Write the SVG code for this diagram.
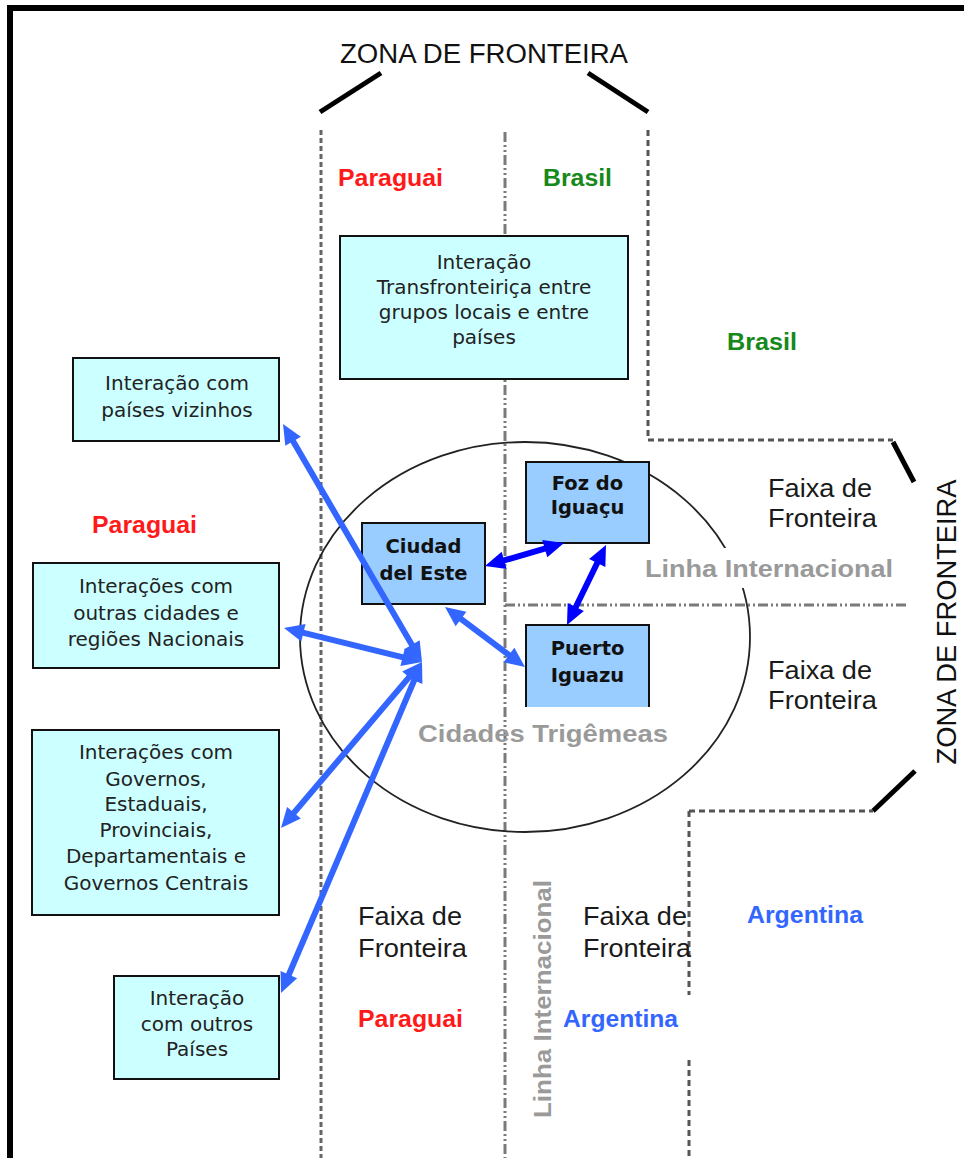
<svg xmlns="http://www.w3.org/2000/svg" width="964" height="1158" viewBox="0 0 964 1158">
<style>
.box{fill:#ccffff;stroke:#111;stroke-width:2}
.city{fill:#99ccff;stroke:#111;stroke-width:2}
.t{font-family:"DejaVu Sans",sans-serif;font-size:20px;fill:#222;text-anchor:middle}
.tb{font-family:"DejaVu Sans",sans-serif;font-size:19.5px;font-weight:bold;fill:#111;text-anchor:middle}
.lab{font-family:"Liberation Sans",Arial,sans-serif;font-weight:bold;font-size:23px}
.red{fill:#ff1a1a}.green{fill:#16891a}.blue{fill:#3366ff}
.faixa{font-family:"Liberation Sans",Arial,sans-serif;font-size:25px;fill:#1a1a1a}
.gray{font-family:"Liberation Sans",Arial,sans-serif;font-weight:bold;font-size:24px;fill:#9a9a9a}
.zona{font-family:"Liberation Sans",Arial,sans-serif;font-size:27px;fill:#111}
.dot{fill:none;stroke:#666;stroke-width:3;stroke-dasharray:5 3}
.dash{fill:none;stroke:#555;stroke-width:3;stroke-dasharray:6 4}
.dd{fill:none;stroke:#7a7a7a;stroke-width:3;stroke-dasharray:10 3 2 3 2 3}
.thick{stroke:#000;stroke-width:5;stroke-linecap:butt}
.a1{stroke:#3366ff;stroke-width:6;fill:none;marker-start:url(#h1);marker-end:url(#h1)}
.a2{stroke:#0000ff;stroke-width:6;fill:none;marker-start:url(#h2);marker-end:url(#h2)}
</style>
<defs>
<marker id="h1" markerUnits="userSpaceOnUse" markerWidth="20" markerHeight="18" refX="8" refY="9" orient="auto-start-reverse" overflow="visible"><path d="M0,0 L20,9 L0,18 z" fill="#3366ff"/></marker>
<marker id="h2" markerUnits="userSpaceOnUse" markerWidth="20" markerHeight="18" refX="8" refY="9" orient="auto-start-reverse" overflow="visible"><path d="M0,0 L20,9 L0,18 z" fill="#0000ff"/></marker>
</defs>
<rect x="0" y="0" width="964" height="1158" fill="#fff"/>
<rect x="10" y="8" width="1000" height="1200" fill="none" stroke="#000" stroke-width="6"/>

<g id="zona-top">
<text class="zona" x="484" y="63" text-anchor="middle" textLength="288" lengthAdjust="spacingAndGlyphs">ZONA DE FRONTEIRA</text>
<line class="thick" x1="320" y1="112" x2="381" y2="73"/>
<line class="thick" x1="588" y1="73" x2="648" y2="112"/>
</g>
<g id="zona-right">
<text class="zona" transform="translate(956,622) rotate(-90)" text-anchor="middle" textLength="285" lengthAdjust="spacingAndGlyphs">ZONA DE FRONTEIRA</text>
<line class="thick" x1="893" y1="442" x2="914" y2="482"/>
<line class="thick" x1="873" y1="811" x2="915" y2="771"/>
</g>

<g id="borders">
<line class="dot" x1="321" y1="130" x2="321" y2="1158"/>
<line class="dash" x1="648" y1="130" x2="648" y2="440"/>
<line class="dash" x1="648" y1="440" x2="893" y2="440"/>
<line class="dash" x1="689" y1="811" x2="873" y2="811"/>
<line class="dash" x1="689" y1="811" x2="689" y2="995"/>
<line class="dash" x1="689" y1="1060" x2="689" y2="1158"/>
<line class="dd" x1="505" y1="132" x2="505" y2="1158"/>
<line class="dd" x1="505" y1="605" x2="908" y2="605"/>
</g>

<g id="cidades-trigemeas">
<ellipse cx="525" cy="637" rx="225" ry="195" fill="none" stroke="#222" stroke-width="1.8"/>
<text class="gray" x="543" y="742" text-anchor="middle" textLength="250" lengthAdjust="spacingAndGlyphs">Cidades Trigêmeas</text>
</g>

<g id="linha-internacional-h">
<rect x="638" y="548" width="262" height="40" fill="#fff"/>
<text class="gray" x="769" y="577" text-anchor="middle" textLength="248" lengthAdjust="spacingAndGlyphs">Linha Internacional</text>
</g>
<g id="linha-internacional-v">
<text class="gray" transform="translate(551,999) rotate(-90)" text-anchor="middle" textLength="238" lengthAdjust="spacingAndGlyphs">Linha Internacional</text>
</g>

<g id="labels">
<text class="lab red" x="338" y="186" textLength="105" lengthAdjust="spacingAndGlyphs">Paraguai</text>
<text class="lab green" x="543" y="186" textLength="69" lengthAdjust="spacingAndGlyphs">Brasil</text>
<text class="lab green" x="727" y="350" textLength="70" lengthAdjust="spacingAndGlyphs">Brasil</text>
<text class="lab red" x="92" y="533" textLength="105" lengthAdjust="spacingAndGlyphs">Paraguai</text>
<text class="lab blue" x="747" y="923" textLength="116" lengthAdjust="spacingAndGlyphs">Argentina</text>
<text class="lab red" x="358" y="1027" textLength="105" lengthAdjust="spacingAndGlyphs">Paraguai</text>
<text class="lab blue" x="563" y="1027" textLength="115" lengthAdjust="spacingAndGlyphs">Argentina</text>
</g>

<g id="faixa-1">
<text class="faixa" x="768" y="497" textLength="104" lengthAdjust="spacingAndGlyphs">Faixa de</text>
<text class="faixa" x="768" y="527" textLength="109" lengthAdjust="spacingAndGlyphs">Fronteira</text>
</g>
<g id="faixa-2">
<text class="faixa" x="768" y="679" textLength="104" lengthAdjust="spacingAndGlyphs">Faixa de</text>
<text class="faixa" x="768" y="709" textLength="109" lengthAdjust="spacingAndGlyphs">Fronteira</text>
</g>
<g id="faixa-3">
<text class="faixa" x="358" y="925" textLength="104" lengthAdjust="spacingAndGlyphs">Faixa de</text>
<text class="faixa" x="358" y="957" textLength="109" lengthAdjust="spacingAndGlyphs">Fronteira</text>
</g>
<g id="faixa-4">
<text class="faixa" x="583" y="925" textLength="104" lengthAdjust="spacingAndGlyphs">Faixa de</text>
<text class="faixa" x="583" y="957" textLength="108" lengthAdjust="spacingAndGlyphs">Fronteira</text>
</g>

<g id="node-transfronteirica">
<rect class="box" x="340" y="236" width="288" height="143"/>
<text class="t" x="484" y="269">Interação</text>
<text class="t" x="484" y="294">Transfronteiriça entre</text>
<text class="t" x="484" y="319">grupos locais e entre</text>
<text class="t" x="484" y="344">países</text>
</g>
<g id="node-vizinhos">
<rect class="box" x="73" y="358" width="206" height="83"/>
<text class="t" x="177" y="390">Interação com</text>
<text class="t" x="177" y="417">países vizinhos</text>
</g>
<g id="node-cidades">
<rect class="box" x="33" y="563" width="246" height="105"/>
<text class="t" x="156" y="593">Interações com</text>
<text class="t" x="156" y="620">outras cidades e</text>
<text class="t" x="156" y="646">regiões Nacionais</text>
</g>
<g id="node-governos">
<rect class="box" x="32" y="730" width="247" height="185"/>
<text class="t" x="156" y="759">Interações com</text>
<text class="t" x="156" y="786">Governos,</text>
<text class="t" x="156" y="811">Estaduais,</text>
<text class="t" x="156" y="837">Provinciais,</text>
<text class="t" x="156" y="863">Departamentais e</text>
<text class="t" x="156" y="890">Governos Centrais</text>
</g>
<g id="node-paises">
<rect class="box" x="114" y="976" width="165" height="103"/>
<text class="t" x="197" y="1005">Interação</text>
<text class="t" x="197" y="1031">com outros</text>
<text class="t" x="197" y="1056">Países</text>
</g>

<g id="node-ciudad">
<rect class="city" x="362" y="523" width="123" height="81"/>
<text class="tb" x="423.5" y="553">Ciudad</text>
<text class="tb" x="423.5" y="580">del Este</text>
</g>
<g id="node-foz">
<rect class="city" x="526" y="462" width="123" height="81"/>
<text class="tb" x="587.5" y="490">Foz do</text>
<text class="tb" x="587.5" y="514">Iguaçu</text>
</g>
<g id="node-puerto">
<rect x="526" y="625" width="123" height="82" fill="#99ccff"/>
<path d="M526,707 V625 H649 V707" fill="none" stroke="#111" stroke-width="2"/>
<text class="tb" x="587.5" y="655">Puerto</text>
<text class="tb" x="587.5" y="682">Iguazu</text>
</g>

<g id="connectors">
<line class="a1" x1="415.95" y1="651.64" x2="289.05" y2="434.36"/>
<line class="a1" x1="410.35" y1="659.13" x2="295.65" y2="630.87"/>
<line class="a1" x1="414.23" y1="671.15" x2="288.77" y2="818.85"/>
<line class="a1" x1="417.3" y1="673.04" x2="285.7" y2="981.96"/>
<line class="a2" x1="496.52" y1="562.65" x2="552.48" y2="546.35"/>
<line class="a2" x1="600.74" y1="555.79" x2="572.26" y2="614.21"/>
<line class="a1" x1="454.6" y1="614.2" x2="515.4" y2="659.8"/>
</g>
</svg>
